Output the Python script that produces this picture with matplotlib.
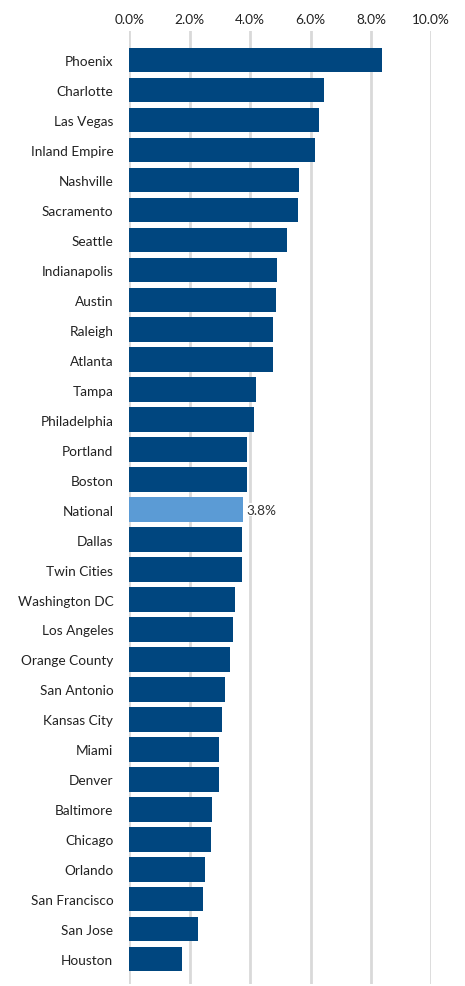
import matplotlib.pyplot as plt
from matplotlib.ticker import FuncFormatter

plt.rcParams['font.family'] = ['Lato', 'DejaVu Sans']

cities = ['Phoenix', 'Charlotte', 'Las Vegas', 'Inland Empire', 'Nashville', 'Sacramento',
          'Seattle', 'Indianapolis', 'Austin', 'Raleigh', 'Atlanta', 'Tampa', 'Philadelphia',
          'Portland', 'Boston', 'National', 'Dallas', 'Twin Cities', 'Washington DC',
          'Los Angeles', 'Orange County', 'San Antonio', 'Kansas City', 'Miami', 'Denver',
          'Baltimore', 'Chicago', 'Orlando', 'San Francisco', 'San Jose', 'Houston']
values = [8.37, 6.45, 6.28, 6.15, 5.62, 5.59, 5.22, 4.89, 4.86, 4.76, 4.76, 4.20, 4.13,
          3.90, 3.90, 3.77, 3.73, 3.73, 3.50, 3.43, 3.33, 3.17, 3.07, 2.97, 2.97,
          2.74, 2.70, 2.51, 2.44, 2.27, 1.75]
ticks = [0, 2, 4, 6, 8, 10]

colors = ['#5b9bd5' if c == 'National' else '#00467f' for c in cities]

fig = plt.figure(figsize=(4.65, 9.87), dpi=100)
ax = fig.add_axes([129.3 / 465, 2 / 987, 302 / 465, 953 / 987])

ypos = list(range(len(cities)))
ax.barh(ypos, values, height=0.82, color=colors, zorder=3)

# label for the national average
i = cities.index('National')
ax.text(values[i] + 0.12, i, f'{values[i]:.1f}%', va='center', ha='left',
        fontsize=9.8, color='#333333', zorder=4,
        bbox=dict(facecolor='white', edgecolor='none', pad=0.5))

ax.set_xlim(0, 10)
ax.set_ylim(30.83, -0.97)
ax.set_xticks(ticks)
ax.xaxis.set_major_formatter(FuncFormatter(lambda v, p: f'{v:.1f}%'))
ax.xaxis.tick_top()
ax.set_yticks(ypos)
ax.set_yticklabels(cities)
ax.tick_params(axis='both', length=0, labelsize=9.8, colors='#222222')
ax.tick_params(axis='y', pad=11.5)
ax.tick_params(axis='x', pad=4)
ax.grid(axis='x', color='#d9d9d9', linewidth=2, zorder=0)
for s in ax.spines.values():
    s.set_visible(False)

fig.savefig('out.png', dpi=100)
